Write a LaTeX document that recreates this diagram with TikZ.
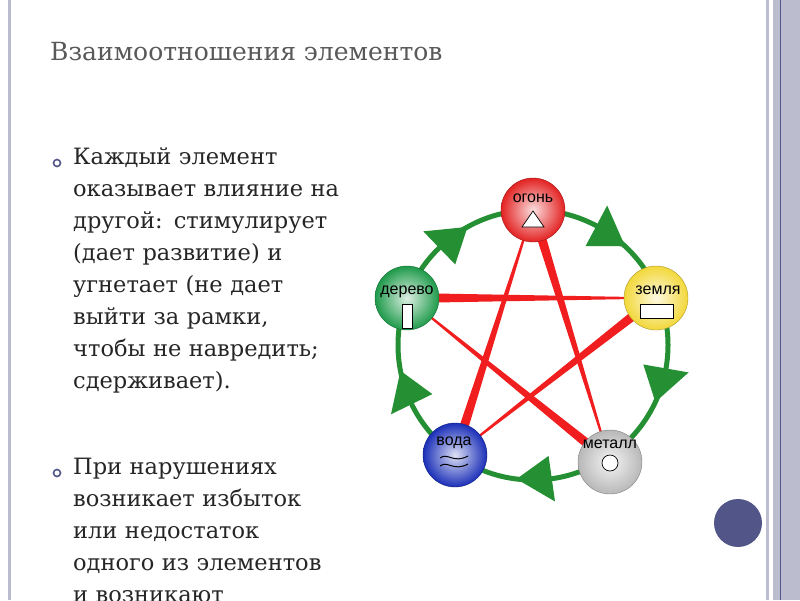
\documentclass[tikz,border=0pt]{standalone}
\usepackage{fontspec}
\setmainfont{DejaVu Serif}
\newfontfamily\lblfont{Liberation Sans}
\usetikzlibrary{calc}
\definecolor{strip}{HTML}{BCBCCF}
\definecolor{darkstrip}{HTML}{525587}
\definecolor{ring}{HTML}{259033}
\definecolor{star}{HTML}{F01E1E}
\definecolor{fireC}{HTML}{E32222}
\definecolor{earthC}{HTML}{F2D83A}
\definecolor{metalC}{HTML}{B8B8B8}
\definecolor{waterC}{HTML}{1B2FB8}
\definecolor{woodC}{HTML}{1E9A4A}
\tikzset{
  ball/.style={circle,minimum size=64pt,inner sep=0pt,inner color=#1!15,outer color=#1,draw=#1!70!black,line width=0.4pt},
  lbl/.style={font=\lblfont\fontsize{16}{16}\selectfont},
  body/.style={anchor=north west,align=left,inner sep=0pt,text width=272pt,
    font=\fontsize{22.5}{32}\selectfont,text=black!85},
  bullet/.style={circle,draw=darkstrip,line width=1.6pt,minimum size=7pt,inner sep=0pt}
}
\begin{document}
\begin{tikzpicture}[x=1pt,y=-1pt]
\useasboundingbox (0,0) rectangle (800,600);
\fill[white] (0,0) rectangle (800,600);
% side strips
\fill[strip] (8,0) rectangle (11,600);
\fill[strip] (766,0) rectangle (769,600);
\fill[strip] (773,0) rectangle (800,600);
\draw[darkstrip,line width=0.8pt] (780,0) -- (780,600);
\node[circle,fill=darkstrip,minimum size=48pt,inner sep=0pt] (dot) at (738,523) {};
% title
\node[anchor=west,inner sep=0pt,font=\fontsize{25}{25}\selectfont,text=black!65] (title) at (50,52) {Взаимоотношения элементов};
% bullets
\node[bullet] (b1) at (57,163) {};
\node[bullet] (b2) at (57,473) {};
\node[body] (t1) at (73,148) {Каждый элемент оказывает влияние на другой: стимулирует (дает развитие) и угнетает (не дает выйти за рамки, чтобы не навредить; сдерживает).};
\node[body] (t2) at (73,458) {При нарушениях возникает избыток или недостаток одного из элементов и возникают};
% diagram
\coordinate (c) at (533,345);
\draw[ring,line width=5pt] (c) circle[radius=135];
\foreach \a in {-56,16,88,160,232}{
  \fill[ring] ($(c)+(\a+9:135)$) -- ($(c)+(\a-6:112)$) -- ($(c)+(\a-6:158)$) -- cycle;
}
\coordinate (F) at (533,210);
\coordinate (E) at (656,298);
\coordinate (M) at (610,462);
\coordinate (W) at (455,455);
\coordinate (D) at (407,298);
\foreach \p/\q in {F/M,D/E,E/W,W/F,M/D}{
  \fill[star] ($(\p)!5pt!90:(\q)$) -- ($(\p)!5pt!-90:(\q)$) -- ($(\q)!0.6pt!90:(\p)$) -- ($(\q)!0.6pt!-90:(\p)$) -- cycle;
}
\node[ball=fireC] (fire) at (F) {};
\node[ball=earthC] (earth) at (E) {};
\node[ball=metalC] (metal) at (M) {};
\node[ball=waterC] (water) at (W) {};
\node[ball=woodC] (wood) at (D) {};
\node[lbl] (lf) at ($(F)+(0,-12)$) {огонь};
\node[lbl] (le) at ($(E)+(2,-8)$) {земля};
\node[lbl] (lm) at ($(M)+(0,-18)$) {металл};
\node[lbl] (lw) at ($(W)+(-1,-12)$) {вода};
\node[lbl] (ld) at ($(D)+(0,-6)$) {дерево};
% symbols
\draw[fill=white,line width=0.7pt] ($(F)+(-11,17)$) -- ($(F)+(11,17)$) -- ($(F)+(0,1)$) -- cycle;
\draw[fill=white,line width=0.7pt] ($(E)+(-16,6)$) rectangle ($(E)+(17,20)$);
\draw[fill=white,line width=0.7pt] ($(M)+(0,1)$) circle[radius=8];
\draw[fill=white,line width=0.7pt] ($(D)+(-5,6)$) rectangle ($(D)+(5,30)$);
\draw[line width=1pt] ($(W)+(-15,3)$) .. controls ($(W)+(-7,-3)$) and ($(W)+(-2,9)$) .. ($(W)+(13,1)$);
\draw[line width=1pt] ($(W)+(-15,11)$) .. controls ($(W)+(-7,5)$) and ($(W)+(-2,17)$) .. ($(W)+(13,9)$);
\end{tikzpicture}
\end{document}
